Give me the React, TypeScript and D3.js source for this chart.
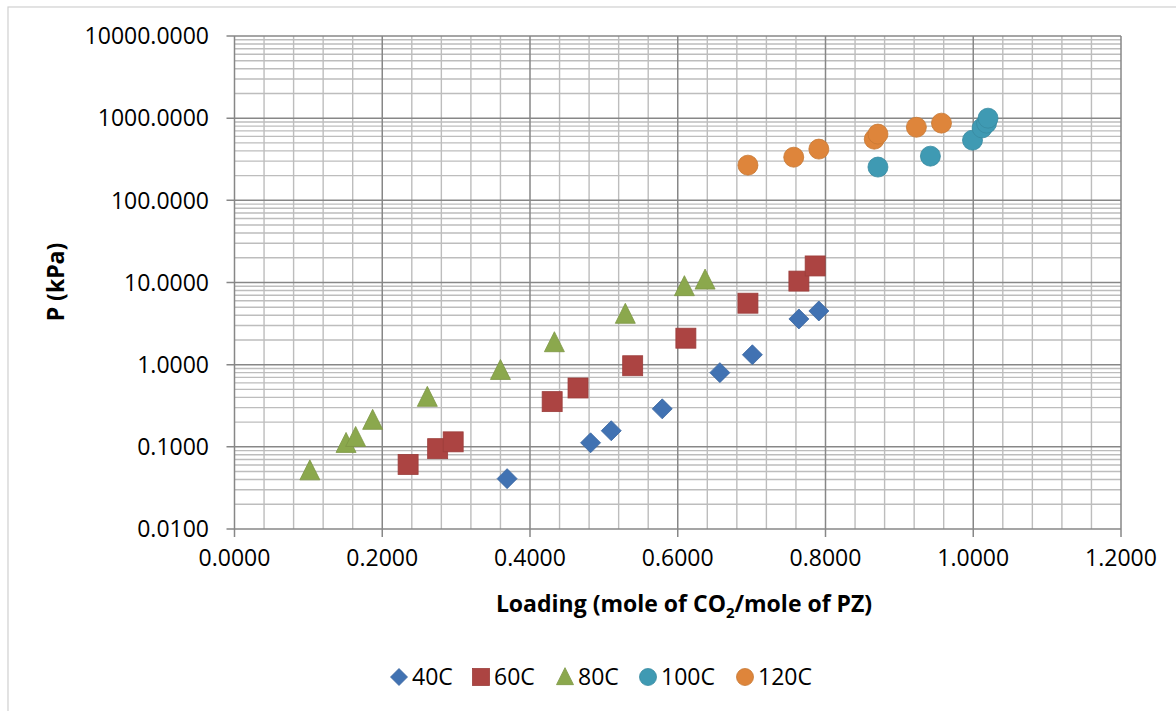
import React from "react";
import * as d3 from "d3";

const series40x = [0.369, 0.482, 0.510, 0.579, 0.657, 0.701, 0.764, 0.791];
const series40y = [0.041, 0.112, 0.157, 0.29, 0.80, 1.32, 3.6, 4.5];
const series60x = [0.235, 0.275, 0.296, 0.430, 0.465, 0.539, 0.611, 0.695, 0.764, 0.786];
const series60y = [0.061, 0.095, 0.115, 0.355, 0.52, 0.97, 2.1, 5.6, 10.4, 15.9];
const series80x = [0.102, 0.151, 0.164, 0.187, 0.261, 0.360, 0.433, 0.529, 0.609, 0.637];
const series80y = [0.051, 0.11, 0.13, 0.21, 0.40, 0.85, 1.85, 4.1, 8.9, 10.7];
const series100x = [0.871, 0.942, 0.999, 1.012, 1.018, 1.020];
const series100y = [254, 345, 540, 760, 870, 1000];
const series120x = [0.695, 0.757, 0.791, 0.866, 0.871, 0.923, 0.957];
const series120y = [268, 335, 420, 555, 640, 775, 870];

const seriesNames = ["40C", "60C", "80C", "100C", "120C"];
const seriesColors = ["#4172B2", "#AC4442", "#8BA84D", "#3F9AB3", "#DE853B"];
const seriesShapes = ["diamond", "square", "triangle", "circle", "circle"];

const xTicks = [0, 0.2, 0.4, 0.6, 0.8, 1.0, 1.2];
const yTicks = [0.01, 0.1, 1, 10, 100, 1000, 10000];

const FONT = "'Open Sans', 'Liberation Sans', sans-serif";

function Marker({ shape, x, y, color, size }: { shape: string; x: number; y: number; color: string; size: number }) {
  const stroke = d3.color(color)!.darker(0.3).toString();
  if (shape === "diamond") {
    const r = size * 0.5;
    return <path d={`M${x},${y - r}L${x + r},${y}L${x},${y + r}L${x - r},${y}Z`} fill={color} stroke={stroke} strokeWidth={0.8} />;
  }
  if (shape === "square") {
    const h = size * 0.5;
    return <rect x={x - h} y={y - h} width={2 * h} height={2 * h} fill={color} stroke={stroke} strokeWidth={0.8} />;
  }
  if (shape === "triangle") {
    const h = size * 0.5;
    return <path d={`M${x},${y - h * 1.1}L${x + h},${y + h * 0.9}L${x - h},${y + h * 0.9}Z`} fill={color} stroke={stroke} strokeWidth={0.8} />;
  }
  return <circle cx={x} cy={y} r={size * 0.5} fill={color} stroke={stroke} strokeWidth={0.8} />;
}

export default function App() {
  const W = 1176, H = 711;
  const left = 234.5, right = 1121, top = 36, bottom = 529;
  const x = d3.scaleLinear().domain([0, 1.2]).range([left, right]);
  const y = d3.scaleLog().domain([0.01, 10000]).range([bottom, top]);

  const minorX = d3.range(0, 1.2001, 0.04).filter((v) => Math.abs(v / 0.2 - Math.round(v / 0.2)) > 1e-6);
  const minorY: number[] = [];
  for (let e = -2; e < 4; e++) for (let m = 2; m <= 9; m++) minorY.push(m * Math.pow(10, e));

  const all = [
    [series40x, series40y],
    [series60x, series60y],
    [series80x, series80y],
    [series100x, series100y],
    [series120x, series120y],
  ];

  const legendX = [399, 481, 565, 648, 745];
  const legendY = 677;

  return (
    <svg width={W} height={H} style={{ position: "absolute", left: 0, top: 0, background: "#fff" }} fontFamily={FONT}>
      <rect x={8} y={7} width={W + 10} height={H + 10} fill="#fff" stroke="#d0d0d0" strokeWidth={1.2} />
      {/* minor grid */}
      {minorY.map((v, i) => (
        <line key={"my" + i} x1={left} x2={right} y1={y(v)} y2={y(v)} stroke="#BDBDBD" strokeWidth={1.4} />
      ))}
      {minorX.map((v, i) => (
        <line key={"mx" + i} x1={x(v)} x2={x(v)} y1={top} y2={bottom} stroke="#BDBDBD" strokeWidth={1.4} />
      ))}
      {/* major grid */}
      {yTicks.map((v, i) => (
        <line key={"gy" + i} x1={left - 8} x2={right} y1={y(v)} y2={y(v)} stroke="#878787" strokeWidth={1.5} />
      ))}
      {xTicks.map((v, i) => (
        <line key={"gx" + i} x1={x(v)} x2={x(v)} y1={top} y2={bottom + 8} stroke="#878787" strokeWidth={1.5} />
      ))}
      {/* tick labels */}
      {yTicks.map((v, i) => (
        <text key={"ty" + i} x={209} y={y(v)} dy="0.36em" textAnchor="end" fontSize={23} fill="#000">
          {v.toFixed(4)}
        </text>
      ))}
      {xTicks.map((v, i) => (
        <text key={"tx" + i} x={x(v)} y={566} textAnchor="middle" fontSize={23} fill="#000">
          {v.toFixed(4)}
        </text>
      ))}
      {/* axis titles */}
      <text x={684} y={612} textAnchor="middle" fontSize={23} fontWeight="bold" fill="#000">
        Loading (mole of CO<tspan fontSize={15} dy={6}>2</tspan>
        <tspan dy={-6}>/mole of PZ)</tspan>
      </text>
      <text transform={`translate(64,282) rotate(-90)`} textAnchor="middle" fontSize={23} fontWeight="bold" fill="#000">
        P (kPa)
      </text>
      {/* points */}
      {all.map(([xs, ys], si) => (
        <g key={"s" + si}>
          {xs.map((xv, i) => (
            <Marker key={i} shape={seriesShapes[si]} x={x(xv)} y={y(ys[i])} color={seriesColors[si]} size={20} />
          ))}
        </g>
      ))}
      {/* legend */}
      {seriesNames.map((n, i) => (
        <g key={"l" + i}>
          <Marker shape={seriesShapes[i]} x={legendX[i]} y={legendY} color={seriesColors[i]} size={17} />
          <text x={legendX[i] + 13} y={legendY} dy="0.36em" fontSize={23} fill="#000">
            {n}
          </text>
        </g>
      ))}
    </svg>
  );
}
